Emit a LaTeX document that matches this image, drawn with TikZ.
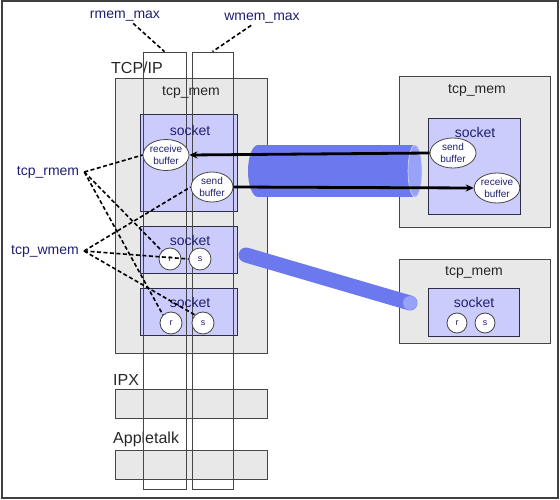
\documentclass[tikz,border=0pt]{standalone}
\usepackage{fontspec}
\setmainfont{Liberation Sans}
\usetikzlibrary{shapes.geometric,arrows.meta,positioning,calc}
\definecolor{navycolor}{RGB}{30,32,110}
\definecolor{boxgray}{RGB}{232,232,232}
\definecolor{edgegray}{RGB}{70,70,70}
\definecolor{sockcolor}{RGB}{204,204,252}
\definecolor{sockedge}{RGB}{45,45,75}
\definecolor{tubecolor}{RGB}{108,120,238}
\definecolor{tubeface}{RGB}{152,162,246}

\begin{document}
\begin{tikzpicture}[
  x=1pt, y=-1pt,
  membox/.style={
    draw=edgegray,
    fill=boxgray,
    line width=0.8pt,
    inner sep=0pt
  },
  sockbox/.style={
    draw=sockedge,
    fill=sockcolor,
    line width=0.8pt,
    inner sep=0pt
  },
  column/.style={
    draw=edgegray,
    line width=0.8pt,
    inner sep=0pt,
    minimum height=437
  },
  buffer/.style={
    ellipse,
    draw=edgegray,
    fill=white,
    line width=0.8pt,
    inner sep=0pt,
    align=center,
    text=navycolor,
    font=\fontsize{10}{12}\selectfont
  },
  slot/.style={
    circle,
    draw=edgegray,
    fill=white,
    line width=0.8pt,
    minimum size=22,
    inner sep=0pt,
    text=navycolor,
    font=\fontsize{9}{10}\selectfont
  },
  title/.style={text=black!85, font=\fontsize{14}{16}\selectfont, inner sep=1pt},
  proto/.style={text=black!85, font=\fontsize{16}{18}\selectfont, inner sep=1pt, anchor=west},
  memlabel/.style={text=navycolor, font=\fontsize{14}{16}\selectfont, inner sep=2pt},
  memlink/.style={dash pattern=on 4pt off 2.5pt, line width=1.6pt, black},
  flow/.style={line width=2.8pt, black, -{Stealth[length=8pt,width=7pt]}}
]
\useasboundingbox (0,0) rectangle (560,500);

% -------- Frame --------
\node[draw=black!75, line width=2pt, minimum width=556, minimum height=497, inner sep=0pt] (frame) at (280,249.5) {};

% -------- Left host: TCP/IP --------
\node[membox, minimum width=152, minimum height=275] (tcpmem) at (191,215.5) {};
\node[title] (tcpmemlabel) at (191,92) {tcp\_mem};
\node[proto] (tcpip) at (110,68) {TCP/IP};

\node[sockbox, minimum width=97, minimum height=97] (sockA) at (188.5,162.5) {};
\node[sockbox, minimum width=97, minimum height=47] (sockB) at (188.5,249.5) {};
\node[sockbox, minimum width=97, minimum height=47] (sockC) at (188.5,311.5) {};

% -------- IPX / Appletalk --------
\node[membox, minimum width=152, minimum height=29] (ipx) at (191,403.5) {};
\node[proto] (ipxlabel) at (112,380) {IPX};
\node[membox, minimum width=152, minimum height=29] (apple) at (191,464.5) {};
\node[proto] (applelabel) at (112,439) {Appletalk};

% -------- rmem_max / wmem_max columns --------
\node[column, minimum width=43] (rmemcol) at (164.5,270.5) {};
\node[column, minimum width=41] (wmemcol) at (212.5,270.5) {};

\node[title, text=navycolor] at (190,130) {socket};
\node[title, text=navycolor] at (190,240) {socket};
\node[title, text=navycolor] at (190,302) {socket};

% -------- Right hosts --------
\node[membox, minimum width=151, minimum height=151] (remoteA) at (474.5,151.5) {};
\node[title] at (477,90) {tcp\_mem};
\node[sockbox, minimum width=92, minimum height=96] (sockR) at (474,166) {};
\node[title, text=navycolor] at (475,132) {socket};

\node[membox, minimum width=151, minimum height=84] (remoteB) at (474.5,301) {};
\node[title] at (474,272) {tcp\_mem};
\node[sockbox, minimum width=91, minimum height=48] (sockS) at (473.5,312) {};
\node[title, text=navycolor] at (474,302) {socket};

% -------- Connection tube --------
\fill[tubecolor] (258,171) ellipse [x radius=10pt, y radius=26pt];
\fill[tubecolor] (258,145) rectangle (415,197);
\fill[tubeface] (415,171) ellipse [x radius=7pt, y radius=26pt];
\draw[white!60!tubeface, line width=0.6pt] (415,171) ellipse [x radius=7pt, y radius=26pt];

% -------- Buffers --------
\node[buffer, minimum width=46, minimum height=31] (recvL) at (166,155) {receive\\buffer};
\node[buffer, minimum width=42, minimum height=30] (sendL) at (212,187) {send\\buffer};
\node[buffer, minimum width=46, minimum height=30] (sendR) at (453,153) {send\\buffer};
\node[buffer, minimum width=45, minimum height=30] (recvR) at (497,188) {receive\\buffer};

\node[slot] (rB) at (170,259) {r};
\node[slot] (sB) at (200,259) {s};
\node[slot] (rC) at (171,323) {r};
\node[slot] (sC) at (203,323) {s};
\node[slot, minimum size=20] (rS) at (457,323) {r};
\node[slot, minimum size=20] (sS) at (485,323) {s};

% -------- Data flow --------
\draw[flow] (sendR.west) -- (recvL.east);
\draw[flow] (sendL.east) -- (recvR.west);

% -------- Second connection --------
\coordinate (pipeA) at (246,255);
\coordinate (pipeB) at (410,303);
\draw[tubecolor, line width=15pt, line cap=round] (pipeA) -- (pipeB);
\fill[tubeface] (pipeB) circle (7pt);

% -------- Limits --------
\node[memlabel] (rmemmax) at (125,16) {rmem\_max};
\node[memlabel] (wmemmax) at (262,18) {wmem\_max};
\node[memlabel] (tcprmem) at (48,172) {tcp\_rmem};
\node[memlabel] (tcpwmem) at (45,251) {tcp\_wmem};

\draw[memlink] (rmemmax) -- (rmemcol.north);
\draw[memlink] (wmemmax) -- (wmemcol.north);

\draw[memlink] ([xshift=3pt]tcprmem.east) -- (recvL.west);
\draw[memlink] ([xshift=3pt]tcprmem.east) -- (rB.north west);
\draw[memlink] ([xshift=3pt]tcprmem.east) -- (rC.north west);

\draw[memlink] ([xshift=3pt]tcpwmem.east) -- (sendL.west);
\draw[memlink] ([xshift=3pt]tcpwmem.east) -- (sB.west);
\draw[memlink] ([xshift=3pt]tcpwmem.east) -- (sC.north west);

\end{tikzpicture}
\end{document}
